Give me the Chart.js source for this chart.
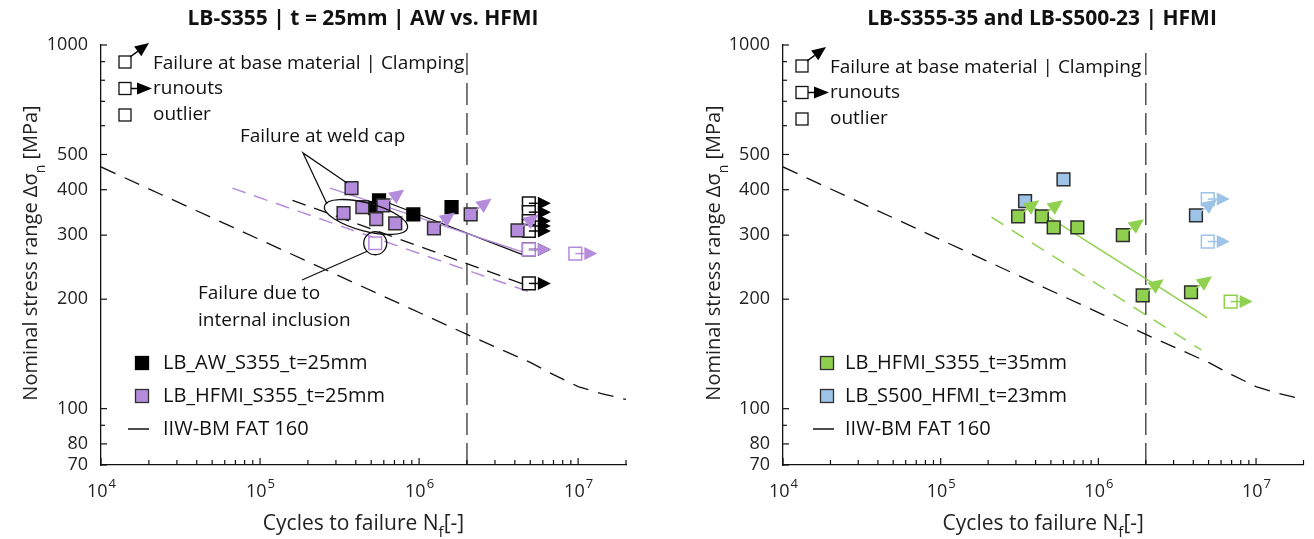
<!DOCTYPE html>
<html>
<head>
<meta charset="utf-8">
<title>S-N curves LB-S355 / LB-S500</title>
<script src="https://cdn.jsdelivr.net/npm/chart.js@4.4.1/dist/chart.umd.min.js"></script>
<style>
  body { margin: 0; background: #fff; }
  #wrap { position: relative; width: 1314px; height: 539px; }
  canvas { position: absolute; top: 0; }
  #left { left: 0; }
  #right { left: 657px; }
</style>
</head>
<body>
<div id="wrap">
  <canvas id="left" width="657" height="539"></canvas>
  <canvas id="right" width="657" height="539"></canvas>
</div>
<script>
const FONT = '"Open Sans", "Noto Sans", sans-serif';

// axes
const xMin = 1e4, xMax = 2e7;
const yMin = 70, yMax = 1000;
const xDecades = [1e4, 1e5, 1e6, 1e7];
const xDecadeExp = ['4', '5', '6', '7'];
const yTickLabels = [70, 80, 100, 200, 300, 400, 500, 1000];
const kneeN = 2e6;

// IIW-BM FAT 160 reference curve
const fatN = [1e4, 2e6, 5e6, 7e6, 1e7, 1.4e7, 2e7];
const fatS = [462, 160, 134, 124, 115, 110, 106];

// left panel - as welded
const awN = [5.6e5, 5.3e5, 9.2e5, 1.6e6];
const awS = [374, 356, 342, 358];
const awRunN = [4.9e6, 4.9e6, 4.9e6, 4.9e6, 4.9e6, 4.9e6, 4.9e6];
const awRunS = [367, 347, 328, 318, 308, 274, 221];
const awMeanN = [5.4e5, 4.6e6];
const awMeanS = [379, 264];
const awLowN = [1.6e5, 4.8e6];
const awLowS = [374, 218];

// left panel - HFMI
const hfmiN = [3.76e5, 3.35e5, 4.4e5, 5.96e5, 5.38e5, 7.08e5, 1.24e6, 2.11e6, 4.16e6];
const hfmiS = [404, 345, 358, 362, 332, 323, 313, 342, 309];
const hfmiBase = [0, 0, 0, 1, 0, 0, 1, 1, 1];
const hfmiRunN = [4.9e6, 9.6e6];
const hfmiRunS = [274, 267];
const hfmiOutN = [5.3e5];
const hfmiOutS = [285];
const hfmiMeanN = [2.76e5, 5.2e6];
const hfmiMeanS = [404, 264];
const hfmiLowN = [6.7e4, 5.0e6];
const hfmiLowS = [404, 209];

// right panel - HFMI S355 t=35mm
const s355N = [3.10e5, 4.38e5, 5.21e5, 7.36e5, 1.43e6, 1.91e6, 3.87e6];
const s355S = [338, 338, 315, 315, 300, 205, 209];
const s355Base = [1, 1, 0, 0, 1, 1, 1];
const s355RunN = [6.9e6];
const s355RunS = [197];
const s355MeanN = [3.6e5, 4.9e6];
const s355MeanS = [365, 178];
const s355LowN = [2.1e5, 4.5e6];
const s355LowS = [336, 145];

// right panel - HFMI S500 t=23mm
const s500N = [3.43e5, 6.01e5, 4.16e6];
const s500S = [372, 427, 340];
const s500Base = [0, 0, 1];
const s500RunN = [4.94e6, 4.94e6];
const s500RunS = [377, 288];

const purple = '#b58bdb';
const green = '#8fd14f';
const blue = '#9dc3e6';
const edge = '#2e2e2e';

Chart.defaults.font.family = FONT;

function pts(xs, ys) {
  return xs.map((x, i) => ({ x: x, y: ys[i] }));
}

function squares(label, xs, ys, fill, stroke, extra) {
  return Object.assign({
    label: label, data: pts(xs, ys), showLine: false,
    pointStyle: 'rect', pointRadius: 9, pointHoverRadius: 9,
    backgroundColor: fill, borderColor: stroke, borderWidth: 1.5
  }, extra || {});
}

function curve(label, xs, ys, color, dash, width) {
  return {
    label: label, data: pts(xs, ys), showLine: true, pointRadius: 0,
    borderColor: color, borderWidth: width || 1.4, borderDash: dash, tension: 0, fill: false
  };
}

function arrow(c, x0, y0, x1, y1, color, head, half) {
  const a = Math.atan2(y1 - y0, x1 - x0);
  const cos = Math.cos(a), sin = Math.sin(a);
  const bx = x1 - head * cos, by = y1 - head * sin;
  c.save();
  c.strokeStyle = color; c.fillStyle = color; c.lineWidth = 1.5;
  c.beginPath(); c.moveTo(x0, y0); c.lineTo(bx, by); c.stroke();
  c.beginPath(); c.moveTo(x1, y1);
  c.lineTo(bx + half * sin, by - half * cos);
  c.lineTo(bx - half * sin, by + half * cos);
  c.closePath(); c.fill();
  c.restore();
}

// text with a subscript in every odd part
function rich(c, parts, x, y, size, drop) {
  const big = size + 'px ' + FONT, small = Math.round(size * 0.72) + 'px ' + FONT;
  let w = 0;
  parts.forEach((p, i) => { c.font = i % 2 ? small : big; w += c.measureText(p).width; });
  let cx = x - w / 2;
  c.textAlign = 'left'; c.textBaseline = 'alphabetic';
  parts.forEach((p, i) => {
    c.font = i % 2 ? small : big;
    c.fillText(p, cx, y + (i % 2 ? drop : 0));
    cx += c.measureText(p).width;
  });
}

function legendSquare(c, x, y, size, fill, stroke) {
  c.fillStyle = fill; c.strokeStyle = stroke; c.lineWidth = 1.3;
  c.fillRect(x - size / 2, y - size / 2, size, size);
  c.strokeRect(x - size / 2, y - size / 2, size, size);
}

function decorations(spec) {
  return {
    id: 'deco',
    afterDatasetsDraw(chart) {
      const c = chart.ctx;
      const ds = chart.data.datasets;
      for (let i = ds.length - 1; i >= 0; i--) {
        if (!ds[i].arrow) continue;
        chart.getDatasetMeta(i).data.forEach((el, j) => {
          if (ds[i].arrowFlags && !ds[i].arrowFlags[j]) return;
          if (ds[i].arrow === 'run') arrow(c, el.x, el.y, el.x + 22, el.y, ds[i].arrowColor, 13, 6.5);
          else arrow(c, el.x + 2, el.y - 2, el.x + 21, el.y - 16, ds[i].arrowColor, 15, 7);
        });
      }
    },
    afterDraw(chart) {
      const c = chart.ctx, xs = chart.scales.x, ys = chart.scales.y, a = chart.chartArea;
      c.save();
      // inward ticks
      c.strokeStyle = '#111'; c.lineWidth = 1.2;
      for (let d = xMin; d <= xMax; d *= 10) {
        for (let k = 1; k < 10; k++) {
          const v = d * k;
          if (v > xMax * 1.0001) break;
          const px = xs.getPixelForValue(v);
          c.beginPath(); c.moveTo(px, a.bottom); c.lineTo(px, a.bottom - (k === 1 ? 7 : 5)); c.stroke();
        }
      }
      for (let d = 10; d <= yMax; d *= 10) {
        for (let k = 1; k < 10; k++) {
          const v = d * k;
          if (v < yMin || v > yMax) continue;
          const py = ys.getPixelForValue(v);
          const major = yTickLabels.indexOf(v) >= 0;
          c.beginPath(); c.moveTo(a.left, py); c.lineTo(a.left + (major ? 6 : 4), py); c.stroke();
        }
      }
      // x tick labels 10^n
      c.fillStyle = '#222';
      xDecades.forEach((v, i) => {
        const px = xs.getPixelForValue(v);
        c.font = '18px ' + FONT;
        const w1 = c.measureText('10').width;
        c.font = '13px ' + FONT;
        const w2 = c.measureText(xDecadeExp[i]).width;
        const x0 = px - (w1 + w2) / 2;
        c.textAlign = 'left'; c.textBaseline = 'alphabetic';
        c.font = '18px ' + FONT; c.fillText('10', x0, 497);
        c.font = '13px ' + FONT; c.fillText(xDecadeExp[i], x0 + w1 + 1, 488);
      });
      // axis titles
      c.fillStyle = '#222';
      rich(c, ['Cycles to failure N', 'f', '[-]'], (a.left + a.right) / 2, 530, 21, 7);
      c.save();
      c.translate(spec.yTitleX, (a.top + a.bottom) / 2 - 2);
      c.rotate(-Math.PI / 2);
      rich(c, ['Nominal stress range \u0394\u03c3', 'n', ' [MPa]'], 0, 7, 20, 8);
      c.restore();
      // title
      c.font = 'bold 21px ' + FONT; c.textAlign = 'center'; c.textBaseline = 'middle'; c.fillStyle = '#111';
      c.fillText(spec.title, spec.titleX, 19);
      // top legend (marker meaning)
      const t = spec.topLegend;
      c.font = '19px ' + FONT; c.textAlign = 'left'; c.textBaseline = 'middle';
      legendSquare(c, t.sx, t.y, 12, '#fff', '#111');
      arrow(c, t.sx + 5, t.y - 5, t.sx + 24, t.y - 19, '#000', 14, 6);
      c.fillStyle = '#111';
      c.fillText('Failure at base material | Clamping', t.tx, t.y + 2);
      legendSquare(c, t.sx, t.y + t.dy, 12, '#fff', '#111');
      arrow(c, t.sx + 6, t.y + t.dy, t.sx + 27, t.y + t.dy, '#000', 15, 6);
      c.fillStyle = '#111';
      c.fillText('runouts', t.tx, t.y + t.dy);
      legendSquare(c, t.sx, t.y + 2 * t.dy, 12, '#fff', '#111');
      c.fillStyle = '#111';
      c.fillText('outlier', t.tx, t.y + 2 * t.dy);
      // bottom legend (series)
      const b = spec.bottomLegend;
      c.font = '20px ' + FONT;
      b.items.forEach((it, i) => {
        const y = b.y + i * b.dy;
        if (it.line) {
          c.strokeStyle = '#111'; c.lineWidth = 1.5;
          c.beginPath(); c.moveTo(b.sx - 14, y); c.lineTo(b.sx + 7, y); c.stroke();
        } else {
          legendSquare(c, b.sx, y, 13, it.fill, it.stroke);
        }
        c.fillStyle = '#111';
        c.fillText(it.label, b.tx, y);
      });
      if (spec.notes) spec.notes(c, chart);
      c.restore();
    }
  };
}

function makePanel(id, spec) {
  return new Chart(document.getElementById(id), {
    type: 'scatter',
    data: { datasets: spec.datasets },
    options: {
      responsive: false,
      animation: false,
      events: [],
      layout: { padding: { top: 45, right: spec.padRight, left: 0, bottom: 0 } },
      plugins: { legend: { display: false }, tooltip: { enabled: false }, title: { display: false } },
      scales: {
        x: {
          type: 'logarithmic', min: xMin, max: xMax,
          grid: { display: false },
          border: { display: true, color: '#111', width: 1.3 },
          ticks: { display: false },
          afterFit: s => { s.height = 74; }
        },
        y: {
          type: 'logarithmic', min: yMin, max: yMax,
          grid: { display: false },
          border: { display: true, color: '#111', width: 1.3 },
          ticks: { color: '#222', font: { size: 18 }, padding: 5, autoSkip: false, callback: v => String(v) },
          afterBuildTicks: s => { s.ticks = yTickLabels.map(v => ({ value: v })); },
          afterFit: s => { s.width = spec.axisLeft; }
        }
      }
    },
    plugins: [decorations(spec)]
  });
}

makePanel('left', {
  title: 'LB-S355 | t = 25mm | AW vs. HFMI',
  titleX: 363,
  axisLeft: 101, padRight: 31, yTitleX: 30,
  topLegend: { sx: 125, tx: 153, y: 62, dy: 26.5 },
  bottomLegend: {
    sx: 142, tx: 163, y: 363, dy: 33,
    items: [
      { label: 'LB_AW_S355_t=25mm', fill: '#000', stroke: '#000' },
      { label: 'LB_HFMI_S355_t=25mm', fill: purple, stroke: edge },
      { label: 'IIW-BM FAT 160', line: true }
    ]
  },
  datasets: [
    squares('LB_HFMI_S355_t=25mm', hfmiN, hfmiS, purple, edge, { arrow: 'base', arrowFlags: hfmiBase, arrowColor: purple }),
    squares('outlier', hfmiOutN, hfmiOutS, '#fff', purple),
    squares('HFMI runouts', hfmiRunN, hfmiRunS, '#fff', purple, { arrow: 'run', arrowColor: purple }),
    squares('LB_AW_S355_t=25mm', awN, awS, '#000', '#000'),
    squares('AW runouts', awRunN, awRunS, '#fff', '#111', { arrow: 'run', arrowColor: '#000' }),
    curve('HFMI mean', hfmiMeanN, hfmiMeanS, purple, [], 1.5),
    curve('AW mean', awMeanN, awMeanS, '#111', [], 1.3),
    curve('HFMI lower', hfmiLowN, hfmiLowS, purple, [14, 9], 1.5),
    curve('AW lower', awLowN, awLowS, '#111', [14, 9], 1.3),
    curve('IIW-BM FAT 160', fatN, fatS, '#111', [16, 10], 1.3),
    curve('knee', [kneeN, kneeN], [yMin, yMax], '#333', [22, 8], 1.3)
  ],
  notes: function (c, chart) {
    const xs = chart.scales.x, ys = chart.scales.y;
    c.strokeStyle = '#111'; c.lineWidth = 1.3;
    c.beginPath(); c.ellipse(366, 217, 43, 14, 15 * Math.PI / 180, 0, 2 * Math.PI); c.stroke();
    const ox = xs.getPixelForValue(hfmiOutN[0]), oy = ys.getPixelForValue(hfmiOutS[0]);
    c.beginPath(); c.arc(ox, oy, 11.5, 0, 2 * Math.PI); c.stroke();
    c.beginPath(); c.moveTo(347, 183); c.lineTo(303, 153); c.lineTo(327, 204); c.stroke();
    c.beginPath(); c.moveTo(302, 280); c.lineTo(ox - 8, oy + 8); c.stroke();
    c.fillStyle = '#111'; c.font = '19px ' + FONT; c.textAlign = 'left'; c.textBaseline = 'middle';
    c.fillText('Failure at weld cap', 240, 137);
    c.fillText('Failure due to', 198, 294);
    c.fillText('internal inclusion', 198, 321);
  }
});

makePanel('right', {
  title: 'LB-S355-35 and LB-S500-23 | HFMI',
  titleX: 385,
  axisLeft: 126, padRight: 4, yTitleX: 56,
  topLegend: { sx: 145, tx: 173, y: 66, dy: 26.5 },
  bottomLegend: {
    sx: 170, tx: 188, y: 363, dy: 33,
    items: [
      { label: 'LB_HFMI_S355_t=35mm', fill: green, stroke: edge },
      { label: 'LB_S500_HFMI_t=23mm', fill: blue, stroke: edge },
      { label: 'IIW-BM FAT 160', line: true }
    ]
  },
  datasets: [
    squares('LB_HFMI_S355_t=35mm', s355N, s355S, green, edge, { arrow: 'base', arrowFlags: s355Base, arrowColor: green }),
    squares('S355 runouts', s355RunN, s355RunS, '#fff', green, { arrow: 'run', arrowColor: green }),
    squares('LB_S500_HFMI_t=23mm', s500N, s500S, blue, edge, { arrow: 'base', arrowFlags: s500Base, arrowColor: blue }),
    squares('S500 runouts', s500RunN, s500RunS, '#fff', blue, { arrow: 'run', arrowColor: blue }),
    curve('S355 mean', s355MeanN, s355MeanS, green, [], 1.5),
    curve('S355 lower', s355LowN, s355LowS, green, [14, 10], 1.5),
    curve('IIW-BM FAT 160', fatN, fatS, '#111', [16, 10], 1.3),
    curve('knee', [kneeN, kneeN], [yMin, yMax], '#333', [22, 8], 1.3)
  ]
});
</script>
</body>
</html>
